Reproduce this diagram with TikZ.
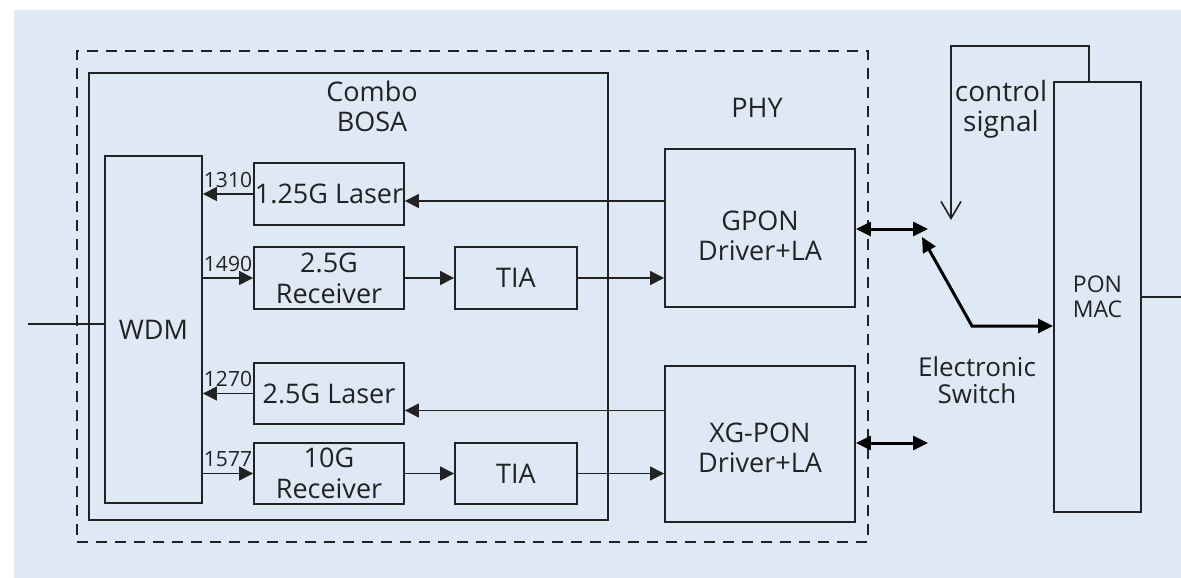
\documentclass[tikz,border=0pt]{standalone}
\usepackage{fontspec}
\setmainfont{Open Sans}
\usetikzlibrary{arrows.meta}
\definecolor{bgblue}{HTML}{DEE9F5}
\definecolor{ink}{HTML}{222222}

\begin{document}
\begin{tikzpicture}[x=1pt,y=-1pt,
  box/.style={draw=ink,line width=1.8pt,inner sep=0pt,align=center,text=ink,
    font=\fontsize{27}{31}\selectfont},
  sig/.style={draw=ink,line width=1.1pt,-{Triangle[length=14pt,width=14pt]}},
  bus/.style={draw=black,line width=3pt,
    {Triangle[length=15pt,width=14pt]}-{Triangle[length=15pt,width=14pt]}},
  num/.style={font=\fontsize{21}{22}\selectfont,text=ink,inner sep=1pt,above=5pt},
  txt/.style={align=center,text=ink,font=\fontsize{27}{30}\selectfont}]
  \useasboundingbox (0,0) rectangle (1181,578);
  \fill[bgblue] (14,10) rectangle (1181,578);

  \node[box,dash pattern=on 11pt off 8pt,line width=2pt,
    minimum width=791pt,minimum height=491pt] (phy) at (472.5,296.5) {};
  \node[txt] (phyT) at (757,108) {PHY};
  \node[box,line width=1.4pt,minimum width=519pt,minimum height=447pt] (bosa) at (348.5,296.5) {};
  \node[txt] (bosaT) at (372,106) {Combo\\BOSA};

  \node[box,minimum width=97pt,minimum height=347pt] (wdm) at (153.5,329.5) {WDM};
  \node[box,minimum width=150pt,minimum height=62pt] (laserA) at (329,194) {1.25G Laser};
  \node[box,minimum width=150pt,minimum height=62pt] (rxA) at (329,278) {2.5G\\Receiver};
  \node[box,minimum width=122pt,minimum height=62pt] (tiaA) at (516,278) {TIA};
  \node[box,minimum width=150pt,minimum height=61pt] (laserB) at (329,393.5) {2.5G Laser};
  \node[box,minimum width=150pt,minimum height=61pt] (rxB) at (329,473.5) {10G\\Receiver};
  \node[box,minimum width=122pt,minimum height=61pt] (tiaB) at (516,473.5) {TIA};
  \node[box,minimum width=190pt,minimum height=158pt] (gpon) at (760,228) {};
  \node[txt] (gponT) at (760,236) {GPON\\Driver+LA};
  \node[box,minimum width=190pt,minimum height=156pt] (xgpon) at (760,444) {};
  \node[txt] (xgponT) at (760,448) {XG-PON\\Driver+LA};
  \node[box,minimum width=87pt,minimum height=430pt] (mac) at (1097.5,297) {};
  \node[txt,font=\fontsize{23}{25}\selectfont] (macT) at (1097.5,297) {PON\\MAC};
  \node[txt,font=\fontsize{28}{30}\selectfont] (ctlT) at (1001,109) {control\\signal};
  \node[txt,font=\fontsize{26}{27}\selectfont] (swT) at (977,380) {Electronic\\Switch};

  \coordinate (fiber) at (28,324);
  \coordinate (out) at (1181,297);
  \coordinate (swA) at (928,229);
  \coordinate (swB) at (928,443);
  \coordinate (swC) at (922,237);
  \coordinate (knee) at (972,326);
  \coordinate (ctl) at (951,46);
  \coordinate (ctlEnd) at (951,220);

  \draw[sig] (laserA.west) -- (laserA.west -| wdm.east) node[num,midway] {1310};
  \draw[sig] (rxA.west -| wdm.east) -- (rxA.west) node[num,midway] {1490};
  \draw[sig] (laserB.west) -- (laserB.west -| wdm.east) node[num,midway] {1270};
  \draw[sig] (rxB.west -| wdm.east) -- (rxB.west) node[num,midway] {1577};
  \draw[sig] (rxA) -- (tiaA);
  \draw[sig] (rxB) -- (tiaB);
  \draw[sig] (tiaA.east) -- (tiaA.east -| gpon.west);
  \draw[sig] (tiaB.east) -- (tiaB.east -| xgpon.west);
  \draw[sig] ([yshift=27pt]gpon.west) -- ([yshift=27pt]gpon.west -| laserA.east);
  \draw[sig] ([yshift=33.5pt]xgpon.west) -- ([yshift=33.5pt]xgpon.west -| laserB.east);
  \draw[ink,line width=1.1pt] (fiber) -- (fiber -| wdm.west);
  \draw[ink,line width=1.1pt] (mac.east) -- (out);

  \draw[bus] (gpon.east |- swA) -- (swA);
  \draw[bus] (xgpon.east |- swB) -- (swB);
  \draw[bus] (swC) -- (knee) -- (knee -| mac.west);
  \draw[ink,line width=1.6pt,-{Straight Barb[length=17pt,width=20pt]}]
    ([xshift=-8.5pt]mac.north) |- (ctl) -- (ctlEnd);
\end{tikzpicture}
\end{document}
